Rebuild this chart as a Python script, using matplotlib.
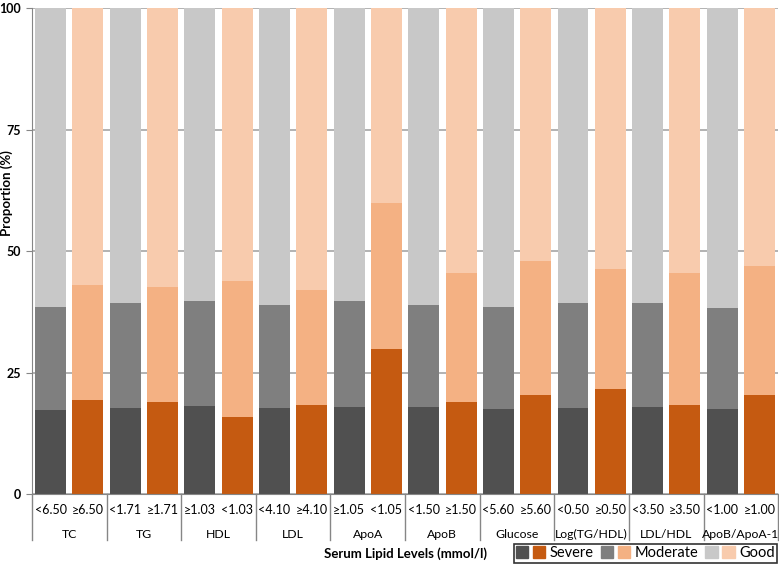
import numpy as np
import matplotlib.pyplot as plt
from matplotlib.patches import Patch
from matplotlib.legend_handler import HandlerTuple
import matplotlib.transforms as mtransforms

plt.rcParams['font.family'] = ['Lato', 'DejaVu Sans']

# data
groups = ["TC", "TG", "HDL", "LDL", "ApoA", "ApoB", "Glucose",
          "Log(TG/HDL)", "LDL/HDL", "ApoB/ApoA-1"]
levels = ["<6.50", "\u22656.50", "<1.71", "\u22651.71", "\u22651.03", "<1.03",
          "<4.10", "\u22654.10", "\u22651.05", "<1.05", "<1.50", "\u22651.50",
          "<5.60", "\u22655.60", "<0.50", "\u22650.50", "<3.50", "\u22653.50",
          "<1.00", "\u22651.00"]
severe = [17.4, 19.4, 17.8, 19.0, 18.1, 15.8, 17.7, 18.4, 18.0, 29.9,
          17.9, 19.0, 17.6, 20.4, 17.8, 21.7, 17.9, 18.4, 17.5, 20.4]
moderate_top = [38.6, 43.1, 39.3, 42.6, 39.7, 43.9, 39.0, 42.1, 39.7, 60.0,
                38.9, 45.5, 38.5, 47.9, 39.4, 46.4, 39.3, 45.6, 38.4, 46.9]
yticks = [0, 25, 50, 75, 100]

severe = np.array(severe)
moderate = np.array(moderate_top) - severe
good = 100 - np.array(moderate_top)

# colours: grey for normal level, orange for risk level
c_sev = ["#505050", "#c55a11"]
c_mod = ["#7f7f7f", "#f4b183"]
c_good = ["#c8c8c8", "#f8cbad"]

x = np.arange(len(levels))
kind = np.array([i % 2 for i in range(len(levels))])

fig = plt.figure(figsize=(7.79, 5.64), dpi=100)
ax = fig.add_axes([0.041, 0.124, 0.958, 0.861])

w = 0.83
for k in (0, 1):
    m = kind == k
    ax.bar(x[m], severe[m], w, color=c_sev[k], zorder=2)
    ax.bar(x[m], moderate[m], w, bottom=severe[m], color=c_mod[k], zorder=2)
    ax.bar(x[m], good[m], w, bottom=severe[m] + moderate[m], color=c_good[k], zorder=2)

ax.set_xlim(-0.5, len(levels) - 0.5)
ax.set_ylim(0, 100)
ax.set_yticks(yticks, labels=[str(v) for v in yticks], fontweight='bold', fontsize=9)
ax.tick_params(axis='y', length=4, color="#868686", pad=4)
ax.yaxis.grid(True, color="#a6a6a6", linewidth=1.2, zorder=0)
ax.set_axisbelow(True)

for s in ("top", "right"):
    ax.spines[s].set_visible(False)
ax.spines["left"].set_color("#868686")
ax.spines["bottom"].set_color("#868686")

ax.set_xticks(x)
ax.set_xticklabels(levels, fontsize=9)
ax.tick_params(axis='x', length=0, pad=7)

trans = mtransforms.blended_transform_factory(ax.transData, ax.transAxes)
for g, name in enumerate(groups):
    ax.text(2 * g + 0.5, -0.084, name, transform=trans, ha='center', va='center',
            fontsize=8.8)
for b in np.arange(-0.5, len(levels), 2):
    ax.plot([b, b], [0, -0.095], transform=trans, color="#868686",
            linewidth=1, clip_on=False)

ax.text(0.5, -0.123, "Serum Lipid Levels (mmol/l)", transform=ax.transAxes,
        ha='center', va='center', fontsize=9.5, fontweight='bold')
ax.text(-0.0345, 0.62, "Proportion (%)", transform=ax.transAxes, rotation=90,
        ha='center', va='center', fontsize=9.5, fontweight='bold')

handles = [(Patch(color=c_sev[0]), Patch(color=c_sev[1])),
           (Patch(color=c_mod[0]), Patch(color=c_mod[1])),
           (Patch(color=c_good[0]), Patch(color=c_good[1]))]
leg = fig.legend(handles, ["Severe", "Moderate", "Good"],
                 handler_map={tuple: HandlerTuple(ndivide=None, pad=0.3)},
                 loc='lower right', bbox_to_anchor=(0.999, 0.0), ncol=3,
                 fontsize=10.5, frameon=True, fancybox=False, edgecolor='black',
                 handlelength=2.0, handleheight=0.9, handletextpad=0.3,
                 columnspacing=0.5, borderpad=0.15, borderaxespad=0.1)
leg.get_frame().set_linewidth(1.2)

fig.savefig("out.png", dpi=100)
